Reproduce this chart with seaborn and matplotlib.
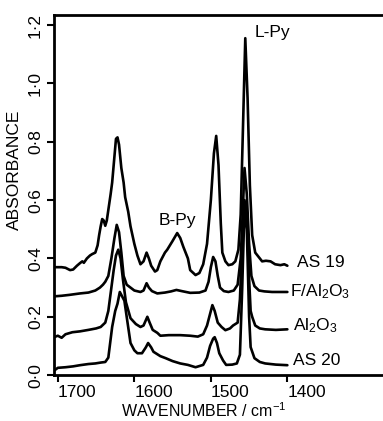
import matplotlib
matplotlib.use("Agg")
import matplotlib.pyplot as plt
import pandas as pd
import seaborn as sns

# IR spectra of adsorbed pyridine (cm-1, absorbance)
as19_wn = [1703, 1695, 1690, 1684, 1680, 1675, 1671, 1668, 1666, 1662, 1658, 1655, 1651, 1648,
           1646, 1644, 1642, 1640, 1638, 1636, 1634, 1631, 1629, 1626, 1624, 1622, 1620, 1617,
           1614, 1612, 1608, 1605, 1600, 1596, 1592, 1588, 1584, 1581, 1578, 1573, 1570, 1566,
           1560, 1557, 1550, 1544, 1540, 1536, 1530, 1527, 1520, 1515, 1510, 1505, 1500, 1496,
           1493, 1490, 1487, 1485, 1481, 1477, 1472, 1468, 1464, 1461, 1458, 1455, 1452, 1449,
           1446, 1442, 1436, 1433, 1428, 1422, 1416, 1409, 1404, 1400]
as19_abs = [0.370, 0.370, 0.368, 0.360, 0.362, 0.375, 0.384, 0.390, 0.385, 0.400, 0.410, 0.415,
            0.420, 0.445, 0.480, 0.510, 0.535, 0.530, 0.512, 0.530, 0.566, 0.620, 0.660, 0.750,
            0.810, 0.815, 0.790, 0.710, 0.660, 0.610, 0.560, 0.510, 0.450, 0.410, 0.380, 0.390,
            0.420, 0.400, 0.375, 0.355, 0.360, 0.390, 0.420, 0.430, 0.460, 0.487, 0.470, 0.440,
            0.400, 0.360, 0.343, 0.350, 0.380, 0.450, 0.600, 0.760, 0.820, 0.720, 0.520, 0.420,
            0.390, 0.377, 0.380, 0.390, 0.430, 0.550, 0.850, 1.155, 0.950, 0.650, 0.480, 0.420,
            0.400, 0.390, 0.392, 0.390, 0.380, 0.377, 0.380, 0.375]

fal_wn = [1705, 1695, 1685, 1671, 1660, 1651, 1645, 1641, 1638, 1634, 1630, 1626, 1623, 1620,
          1617, 1614, 1610, 1605, 1600, 1592, 1588, 1584, 1581, 1577, 1570, 1560, 1552, 1545,
          1538, 1527, 1515, 1507, 1503, 1500, 1497, 1494, 1491, 1488, 1483, 1477, 1470, 1465,
          1461, 1458, 1456, 1453, 1450, 1447, 1443, 1437, 1430, 1420, 1410, 1400]
fal_abs = [0.270, 0.272, 0.275, 0.280, 0.283, 0.290, 0.300, 0.310, 0.320, 0.340, 0.400, 0.470,
           0.515, 0.490, 0.420, 0.340, 0.310, 0.300, 0.290, 0.285, 0.290, 0.315, 0.300, 0.288,
           0.280, 0.283, 0.287, 0.292, 0.288, 0.282, 0.283, 0.290, 0.320, 0.370, 0.405, 0.390,
           0.340, 0.300, 0.288, 0.285, 0.290, 0.310, 0.400, 0.580, 0.710, 0.620, 0.450, 0.340,
           0.305, 0.290, 0.287, 0.285, 0.285, 0.285]

al_wn = [1705, 1700, 1695, 1690, 1681, 1671, 1660, 1650, 1644, 1638, 1634, 1630, 1627, 1624,
         1621, 1618, 1615, 1611, 1605, 1598, 1592, 1588, 1583, 1580, 1576, 1570, 1566, 1555,
         1540, 1527, 1517, 1510, 1505, 1501, 1498, 1495, 1491, 1486, 1481, 1475, 1471, 1465,
         1462, 1459, 1456, 1453, 1450, 1448, 1446, 1442, 1436, 1429, 1415, 1400]
al_abs = [0.130, 0.135, 0.128, 0.140, 0.147, 0.150, 0.155, 0.160, 0.165, 0.180, 0.220, 0.300,
          0.360, 0.410, 0.430, 0.400, 0.330, 0.250, 0.195, 0.175, 0.165, 0.170, 0.200, 0.180,
          0.155, 0.145, 0.135, 0.137, 0.137, 0.135, 0.132, 0.140, 0.170, 0.210, 0.240, 0.220,
          0.180, 0.165, 0.154, 0.160, 0.170, 0.180, 0.260, 0.450, 0.600, 0.550, 0.330, 0.220,
          0.200, 0.170, 0.160, 0.157, 0.155, 0.157]

as20_wn = [1705, 1700, 1690, 1680, 1671, 1660, 1651, 1644, 1638, 1634, 1629, 1625, 1622, 1619,
           1616, 1613, 1610, 1605, 1600, 1596, 1590, 1585, 1582, 1578, 1575, 1566, 1559, 1550,
           1540, 1530, 1520, 1510, 1505, 1501, 1497, 1495, 1492, 1489, 1484, 1480, 1472, 1466,
           1462, 1459, 1456, 1453, 1450, 1448, 1443, 1436, 1429, 1415, 1400]
as20_abs = [0.015, 0.025, 0.027, 0.030, 0.034, 0.038, 0.040, 0.043, 0.045, 0.060, 0.165, 0.220,
            0.245, 0.285, 0.270, 0.255, 0.200, 0.110, 0.085, 0.075, 0.075, 0.095, 0.110, 0.095,
            0.080, 0.065, 0.058, 0.048, 0.040, 0.035, 0.027, 0.035, 0.060, 0.100, 0.125, 0.130,
            0.110, 0.075, 0.050, 0.035, 0.036, 0.040, 0.070, 0.300, 0.580, 0.500, 0.200, 0.096,
            0.058, 0.045, 0.040, 0.036, 0.034]

sample_names = ["AS 19", "F/Al$_2$O$_3$", "Al$_2$O$_3$", "AS 20"]
xticks = [1700, 1600, 1500, 1400]
yticks = [0.0, 0.2, 0.4, 0.6, 0.8, 1.0, 1.2]

frames = []
for name, wn, ab in zip(sample_names,
                        [as19_wn, fal_wn, al_wn, as20_wn],
                        [as19_abs, fal_abs, al_abs, as20_abs]):
    frames.append(pd.DataFrame({"wn": wn, "abs": ab, "sample": name}))
df = pd.concat(frames, ignore_index=True)

sns.set_theme(style="ticks", rc={"text.color": "black", "axes.labelcolor": "black",
                                 "xtick.color": "black", "ytick.color": "black"})
plt.rcParams["font.family"] = ["Liberation Sans", "DejaVu Sans"]
plt.rcParams["mathtext.fontset"] = "custom"
plt.rcParams["mathtext.rm"] = "Liberation Sans"
plt.rcParams["mathtext.it"] = "Liberation Sans"

fig = plt.figure(figsize=(3.83, 4.21), dpi=100)
ax = fig.add_axes([0.141, 0.109, 0.859, 0.855])

sns.lineplot(data=df, x="wn", y="abs", units="sample", estimator=None, sort=False,
             color="black", linewidth=1.9, ax=ax)

ax.set_xlim(1705, 1275)
ax.set_ylim(0, 1.234)
ax.spines["right"].set_visible(False)
for s in ["left", "bottom", "top"]:
    ax.spines[s].set_linewidth(2)
    ax.spines[s].set_color("black")

ax.set_xticks(xticks)
ax.set_xticklabels([str(t) for t in xticks], fontsize=12.5, ha="left")
ax.set_yticks(yticks)
ax.set_yticklabels([f"{v:.1f}".replace(".", "\u00b7") for v in yticks],
                   fontsize=12.5, rotation=90, va="center")
ax.tick_params(direction="out", length=5, width=1.5, color="black", pad=3)
ax.tick_params(axis="x", pad=2)

ax.set_xlabel("WAVENUMBER / cm$^{-1}$", fontsize=11.5)
ax.set_ylabel("ABSORBANCE", fontsize=12.5)
ax.xaxis.set_label_coords(0.456, -0.073)
ax.yaxis.set_label_coords(-0.097, 0.569)

# peak assignments and sample labels
ax.text(1420, 1.176, "L-Py", fontsize=12.5, ha="center", va="center")
ax.text(1544, 0.53, "B-Py", fontsize=12.5, ha="center", va="center")
label_y = [0.387, 0.285, 0.171, 0.051]
label_x = [1387, 1396, 1392, 1392]
for name, lx, ly in zip(sample_names, label_x, label_y):
    ax.text(lx, ly, name, fontsize=12.5, ha="left", va="center")

fig.savefig("out.png", dpi=100)
